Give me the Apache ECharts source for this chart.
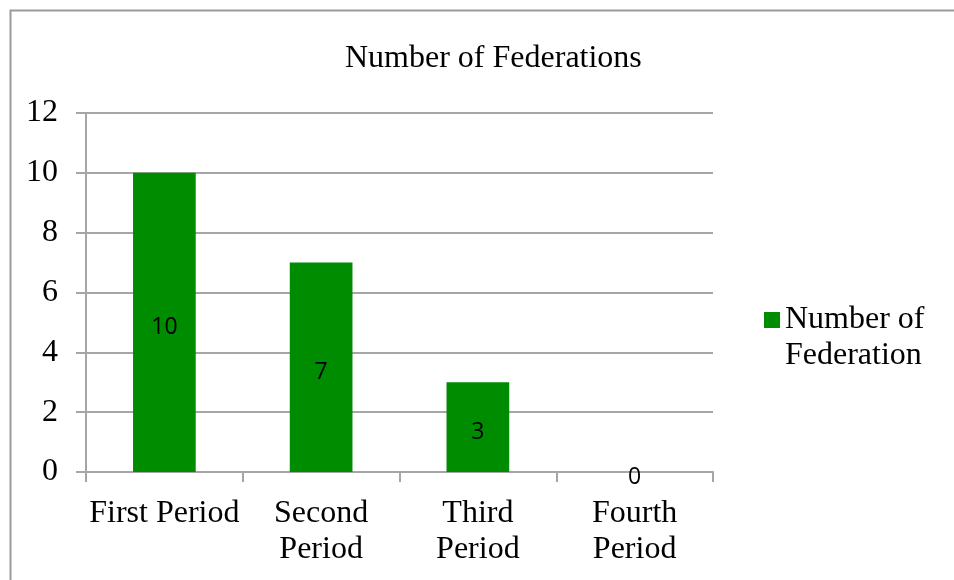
<!DOCTYPE html>
<html>
<head>
<meta charset="utf-8">
<script src="https://cdn.jsdelivr.net/npm/echarts@6/dist/echarts.min.js"></script>
<style>
  html, body { margin: 0; padding: 0; background: #fff; }
  #chart { width: 954px; height: 580px; }
</style>
</head>
<body>
<div id="chart"></div>
<script>
  var categories = ['First Period', 'Second\nPeriod', 'Third\nPeriod', 'Fourth\nPeriod']
  var federations = [10, 7, 3, 0]
  var seriesName = 'Number of Federation'

  var serif = '"Liberation Serif", "Times New Roman", serif'
  var gridColor = '#a6a6a6'

  var chart = echarts.init(document.getElementById('chart'))
  chart.setOption({
    backgroundColor: '#fff',
    animation: false,
    graphic: [{
      type: 'rect',
      shape: {x: 10.5, y: 10.5, width: 1200, height: 1200},
      style: {fill: 'none', stroke: '#9a9a9a', lineWidth: 2}
    }],
    title: {
      text: 'Number of Federations',
      left: 340,
      top: 38,
      textStyle: {fontFamily: serif, fontSize: 32, fontWeight: 'normal', color: '#000'}
    },
    legend: {
      left: 764,
      top: 266,
      padding: 0,
      itemWidth: 16,
      itemHeight: 16,
      itemGap: 7,
      icon: 'rect',
      // leading blank line keeps the marker level with the first line
      formatter: function () { return '\nNumber of\nFederation' },
      textStyle: {fontFamily: serif, fontSize: 32, color: '#000', lineHeight: 36},
      data: [seriesName]
    },
    grid: {left: 86, right: 241, top: 113, bottom: 108},
    xAxis: {
      type: 'category',
      data: categories,
      axisLine: {lineStyle: {color: gridColor, width: 2}},
      axisTick: {show: true, length: 10, lineStyle: {color: gridColor, width: 2}},
      axisLabel: {interval: 0, fontFamily: serif, fontSize: 32, color: '#000', lineHeight: 36, margin: 24}
    },
    yAxis: {
      type: 'value',
      min: 0,
      max: 12,
      interval: 2,
      axisLine: {show: true, lineStyle: {color: gridColor, width: 2}},
      axisTick: {show: true, length: 10, lineStyle: {color: gridColor, width: 2}},
      axisLabel: {fontFamily: serif, fontSize: 32, color: '#000', margin: 28},
      splitLine: {lineStyle: {color: gridColor, width: 2}}
    },
    series: [{
      name: seriesName,
      type: 'bar',
      data: federations,
      barWidth: '40%',
      itemStyle: {color: '#008c00'},
      label: {
        show: true,
        position: 'inside',
        offset: [0, 5],
        fontFamily: '"Open Sans", sans-serif',
        fontSize: 23,
        color: '#000'
      }
    }]
  })
</script>
</body>
</html>
